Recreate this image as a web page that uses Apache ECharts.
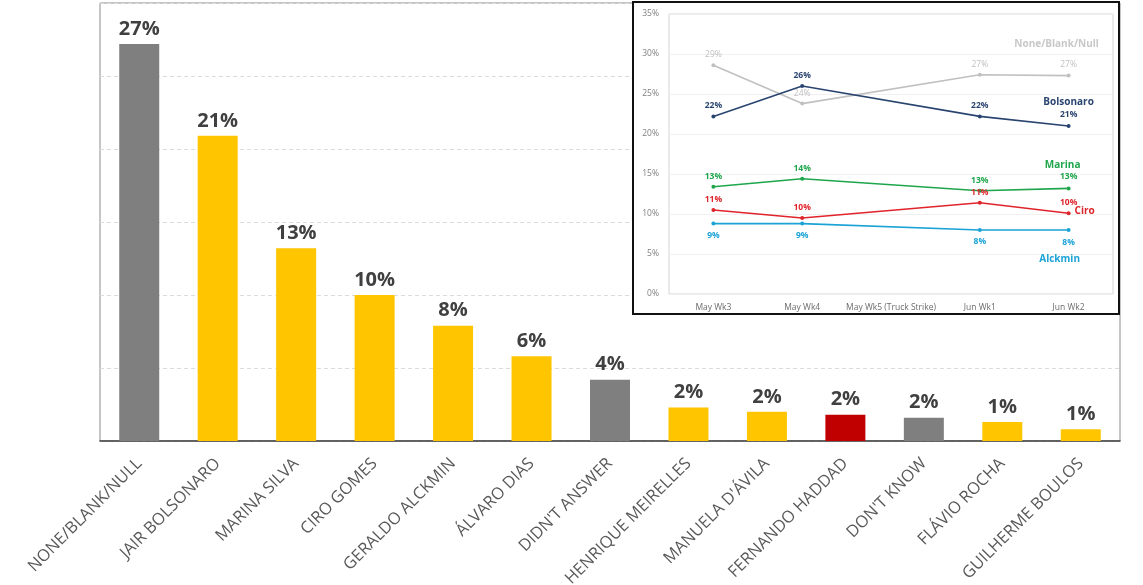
<!DOCTYPE html>
<html>
<head>
<meta charset="utf-8">
<script src="https://cdn.jsdelivr.net/npm/echarts@6/dist/echarts.min.js"></script>
<style>
html,body{margin:0;padding:0;background:#fff;}
#chart{width:1143px;height:585px;}
</style>
</head>
<body>
<div id="chart"></div>
<script>
// ---- Main bar chart data ----
const categories = ['NONE/BLANK/NULL','JAIR BOLSONARO','MARINA SILVA','CIRO GOMES','GERALDO ALCKMIN','ÁLVARO DIAS',"DIDN'T ANSWER",'HENRIQUE MEIRELLES',"MANUELA D'ÁVILA",'FERNANDO HADDAD',"DON'T KNOW",'FLÁVIO ROCHA','GUILHERME BOULOS'];
const values = [27.2, 20.9, 13.2, 10.0, 7.9, 5.8, 4.2, 2.3, 2.0, 1.8, 1.6, 1.3, 0.8];
const yTicks = [0, 5, 10, 15, 20, 25, 30];

// ---- Inset line chart data ----
const weeks = ['May Wk3','May Wk4','May Wk5 (Truck Strike)','Jun Wk1','Jun Wk2'];
const noneBlankNull = [28.6, 23.8, null, 27.4, 27.3];
const bolsonaro = [22.2, 26.0, null, 22.2, 21.0];
const marina = [13.4, 14.4, null, 12.9, 13.2];
const ciro = [10.5, 9.5, null, 11.4, 10.1];
const alckmin = [8.8, 8.8, null, 8.0, 8.0];
const insetTicks = [0, 5, 10, 15, 20, 25, 30, 35];

// ---- styles ----
const greyCats = ['NONE/BLANK/NULL', "DIDN'T ANSWER", "DON'T KNOW"];
const redCats = ['FERNANDO HADDAD'];
const GREY = '#7f7f7f', YELLOW = '#ffc600', RED = '#c00000';
const FONT = '"Open Sans", "Liberation Sans", sans-serif';

function barColor(p) {
  if (greyCats.indexOf(p.name) >= 0) return GREY;
  if (redCats.indexOf(p.name) >= 0) return RED;
  return YELLOW;
}
const pct = v => Math.round(v) + '%';

function lineSeries(name, data, color, opts) {
  return Object.assign({
    name: name,
    type: 'line',
    xAxisIndex: 1,
    yAxisIndex: 1,
    data: data,
    connectNulls: true,
    symbol: 'circle',
    symbolSize: 4,
    zlevel: 1,
    z: 10,
    lineStyle: { color: color, width: 1.6 },
    itemStyle: { color: color },
    label: {
      show: true,
      position: 'top',
      distance: 4,
      color: color,
      fontFamily: FONT,
      fontSize: 8.5,
      fontWeight: 'bold',
      formatter: p => pct(p.value)
    }
  }, opts || {});
}

const chart = echarts.init(document.getElementById('chart'));
chart.setOption({
  animation: false,
  backgroundColor: '#fff',
  textStyle: { fontFamily: FONT },
  grid: [
    { left: 100, top: 3, right: 23, bottom: 144, containLabel: false, outerBoundsMode: 'none',
      show: true, borderColor: '#8c8c8c', borderWidth: 1, backgroundColor: 'transparent' },
    { left: 669, top: 14, right: 30, bottom: 291, containLabel: false, outerBoundsMode: 'none',
      show: true, borderColor: '#d4d4d4', borderWidth: 1, backgroundColor: '#fff', zlevel: 1, z: 4 }
  ],
  graphic: [
    { type: 'rect', zlevel: 1, z: 1, shape: { x: 633, y: 2, width: 486, height: 312 },
      style: { fill: '#fff', stroke: '#111', lineWidth: 2 } }
  ],
  xAxis: [
    {
      type: 'category', gridIndex: 0, data: categories,
      axisLine: { show: true, lineStyle: { color: '#404040', width: 1.5 } },
      axisTick: { show: false },
      axisLabel: { interval: 0, rotate: 45, margin: 20, color: '#595959', fontSize: 16.5, fontFamily: FONT }
    },
    {
      type: 'category', gridIndex: 1, data: weeks, zlevel: 1, z: 5,
      axisLine: { show: false },
      axisTick: { show: false },
      axisLabel: { interval: 0, margin: 9, color: '#6b6b6b', fontSize: 8.5, fontFamily: FONT }
    }
  ],
  yAxis: [
    {
      type: 'value', gridIndex: 0, min: yTicks[0], max: yTicks[yTicks.length - 1], interval: 5,
      axisLine: { show: false }, axisTick: { show: false }, axisLabel: { show: false },
      splitLine: { show: true, lineStyle: { color: '#dcdcdc', type: [4, 3], width: 1 } }
    },
    {
      type: 'value', gridIndex: 1, min: insetTicks[0], max: insetTicks[insetTicks.length - 1], interval: 5, zlevel: 1, z: 5,
      axisLine: { show: false }, axisTick: { show: false },
      axisLabel: { color: '#7f7f7f', fontSize: 8.5, margin: 10, fontFamily: FONT, formatter: v => v + '%' },
      splitLine: { show: true, lineStyle: { color: '#f0f0f0', width: 1 } }
    }
  ],
  series: [
    {
      type: 'bar', xAxisIndex: 0, yAxisIndex: 0, data: values, barWidth: 40,
      itemStyle: { color: barColor },
      label: {
        show: true, position: 'top', distance: 5, color: '#404040',
        fontSize: 20, fontWeight: 'bold', fontFamily: FONT,
        formatter: p => pct(p.value)
      }
    },
    lineSeries('None/Blank/Null', noneBlankNull, '#c0c0c0', {
      label: {
        show: true, position: 'top', distance: 4, color: '#c0c0c0', fontFamily: FONT, fontSize: 8.5,
        formatter: p => p.dataIndex === 4 ? '{n|None/Blank/Null}\n{g|}\n{v|' + pct(p.value) + '}' : pct(p.value),
        rich: {
          n: { fontSize: 10, fontWeight: 'bold', color: '#c8c8c8', fontFamily: FONT, lineHeight: 12, padding: [0, 24, 0, 0] },
          g: { lineHeight: 8 },
          v: { fontSize: 8.5, color: '#c0c0c0', fontFamily: FONT, lineHeight: 11 }
        }
      }
    }),
    lineSeries('Bolsonaro', bolsonaro, '#2a4470', {
      label: {
        show: true, position: 'top', distance: 4, color: '#2a4470', fontFamily: FONT, fontSize: 8.5, fontWeight: 'bold',
        formatter: p => p.dataIndex === 4 ? '{n|Bolsonaro}\n{v|' + pct(p.value) + '}' : pct(p.value),
        rich: {
          n: { fontSize: 10, fontWeight: 'bold', color: '#2a4470', fontFamily: FONT, lineHeight: 13 },
          v: { fontSize: 8.5, fontWeight: 'bold', color: '#2a4470', fontFamily: FONT, lineHeight: 11 }
        }
      }
    }),
    lineSeries('Marina', marina, '#1fa64d', {
      label: {
        show: true, position: 'top', distance: 4, color: '#1fa64d', fontFamily: FONT, fontSize: 8.5, fontWeight: 'bold',
        formatter: p => p.dataIndex === 4 ? '{n|Marina}\n{v|' + pct(p.value) + '}' : pct(p.value),
        rich: {
          n: { fontSize: 10, fontWeight: 'bold', color: '#1fa64d', fontFamily: FONT, lineHeight: 13, padding: [0, 12, 0, 0] },
          v: { fontSize: 8.5, fontWeight: 'bold', color: '#1fa64d', fontFamily: FONT, lineHeight: 11 }
        }
      }
    }),
    lineSeries('Ciro', ciro, '#e0242c', {
      endLabel: { show: true, formatter: 'Ciro', color: '#e0242c', fontSize: 10, fontWeight: 'bold', fontFamily: FONT, distance: 6, offset: [0, -2] }
    }),
    lineSeries('Alckmin', alckmin, '#1ba3d6', {
      label: {
        show: true, position: 'bottom', distance: 5, color: '#1ba3d6', fontFamily: FONT, fontSize: 8.5, fontWeight: 'bold',
        formatter: p => p.dataIndex === 4 ? '{v|' + pct(p.value) + '}\n{g|}\n{n|Alckmin}' : pct(p.value),
        rich: {
          n: { fontSize: 10, fontWeight: 'bold', color: '#1ba3d6', fontFamily: FONT, lineHeight: 13, padding: [0, 18, 0, 0] },
          g: { lineHeight: 5 },
          v: { fontSize: 8.5, fontWeight: 'bold', color: '#1ba3d6', fontFamily: FONT, lineHeight: 11 }
        }
      }
    })
  ]
});
</script>
</body>
</html>
